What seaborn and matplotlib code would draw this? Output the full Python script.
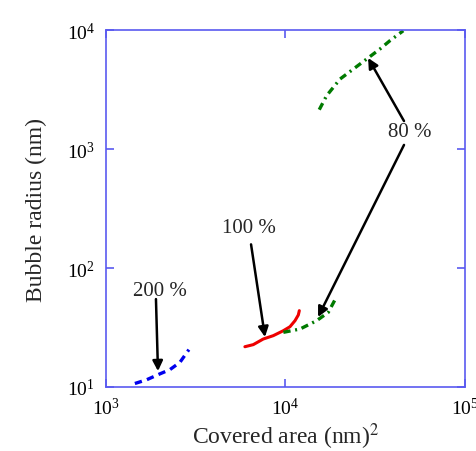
import matplotlib
matplotlib.use("Agg")
import matplotlib.pyplot as plt
import seaborn as sns

# Data
blue_x = [1450, 1685, 2000, 2273, 2582, 2898]
blue_y = [10.7, 11.5, 12.9, 14.0, 16.1, 20.6]

red_x = [5943, 6617, 7516, 8550, 9720, 10590, 11300, 11790, 11940]
red_y = [21.8, 22.7, 25.3, 27.0, 29.7, 32.1, 36.1, 40.3, 43.8]

green_lo_x = [9730, 12050, 14920, 17310, 18880]
green_lo_y = [28.8, 30.7, 36.1, 42.4, 54.2]

green_hi_x = [15420, 16940, 20140, 23880, 28300, 33560, 38150, 45270]
green_hi_y = [2140, 2805, 3875, 4700, 5700, 6920, 8130, 9860]

x_label = "Covered area (nm)$^2$"
y_label = "Bubble radius (nm)"

sns.set_theme(style="white")
plt.rcParams["font.family"] = ["Liberation Serif", "DejaVu Serif"]
plt.rcParams["mathtext.fontset"] = "stix"

frame = "#5a5af0"

fig = plt.figure(figsize=(4.77, 4.52), dpi=100)
ax = fig.add_axes([0.222, 0.1416, 0.753, 0.7898])

green_style = (0, (2.2, 1.4, 0.6, 1.4))
sns.lineplot(x=blue_x, y=blue_y, ax=ax, color="#0000ee", lw=2.4,
             linestyle=(0, (2.2, 1.6)))
sns.lineplot(x=red_x, y=red_y, ax=ax, color="#ee0000", lw=2.2)
sns.lineplot(x=green_lo_x, y=green_lo_y, ax=ax, color="#007a00", lw=2.4,
             linestyle=green_style)
sns.lineplot(x=green_hi_x, y=green_hi_y, ax=ax, color="#007a00", lw=2.4,
             linestyle=green_style)

ax.set_xscale("log")
ax.set_yscale("log")
ax.set_xlim(1e3, 1e5)
ax.set_ylim(1e1, 1e4)

ax.xaxis.set_major_locator(matplotlib.ticker.LogLocator(base=10, numticks=10))
ax.yaxis.set_major_locator(matplotlib.ticker.LogLocator(base=10, numticks=10))
ax.xaxis.set_minor_locator(matplotlib.ticker.NullLocator())
ax.yaxis.set_minor_locator(matplotlib.ticker.NullLocator())

for s in ax.spines.values():
    s.set_color(frame)
    s.set_linewidth(1.2)
ax.tick_params(which="major", direction="in", length=6, width=1.2, color=frame,
               top=True, right=True, bottom=True, left=True, labelsize=14,
               labelcolor="black")
ax.tick_params(axis="x", pad=7)
ax.tick_params(axis="y", pad=8)

ax.set_xlabel(x_label, fontsize=17, labelpad=2)
ax.set_ylabel(y_label, fontsize=17, labelpad=14)

arrow = dict(arrowstyle="-|>", color="black", lw=1.8, mutation_scale=15,
             shrinkA=0, shrinkB=0)
ax.annotate("", xy=(1950, 13.6), xytext=(1900, 54.8), arrowprops=arrow)
ax.text(2000, 65, "200 %", ha="center", va="center", fontsize=15)

ax.annotate("", xy=(7690, 26.3), xytext=(6430, 158), arrowprops=arrow)
ax.text(6270, 217, "100 %", ha="center", va="center", fontsize=15)

ax.annotate("", xy=(28840, 5820), xytext=(45700, 1718), arrowprops=arrow)
ax.annotate("", xy=(15180, 38.7), xytext=(45700, 1082), arrowprops=arrow)
ax.text(49400, 1390, "80 %", ha="center", va="center", fontsize=15)

fig.savefig("out.png", dpi=100)
